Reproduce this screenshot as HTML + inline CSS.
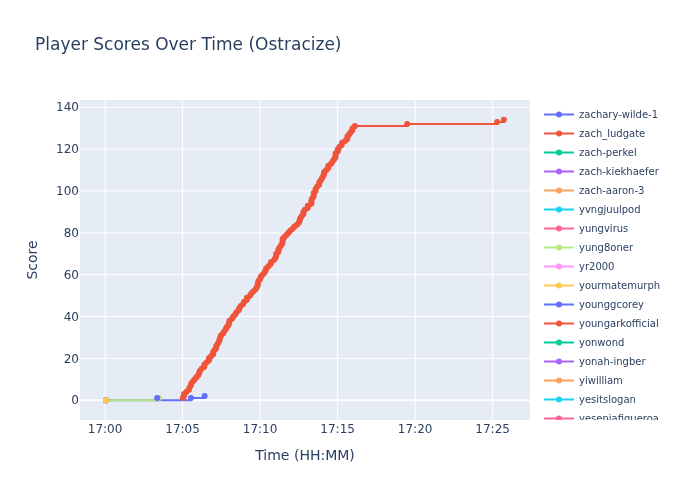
<!DOCTYPE html>
<html><head><meta charset="utf-8"><title>Player Scores Over Time (Ostracize)</title>
<style>
html,body{margin:0;padding:0;background:#fff;}
svg{display:block;font-family:"DejaVu Sans","Liberation Sans",sans-serif;}
</style></head><body>
<svg width="700" height="500" viewBox="0 0 700 500">
<rect width="700" height="500" fill="#fff"/>
<rect x="80" y="100" width="450" height="320" fill="#E5ECF6"/>
<g><path d="M105.07,100V420" stroke="#fff" stroke-width="1"/><path d="M182.58,100V420" stroke="#fff" stroke-width="1"/><path d="M260.10,100V420" stroke="#fff" stroke-width="1"/><path d="M337.62,100V420" stroke="#fff" stroke-width="1"/><path d="M415.13,100V420" stroke="#fff" stroke-width="1"/><path d="M492.64,100V420" stroke="#fff" stroke-width="1"/><path d="M80,400.20H530" stroke="#fff" stroke-width="2"/><path d="M80,358.36H530" stroke="#fff" stroke-width="1"/><path d="M80,316.51H530" stroke="#fff" stroke-width="1"/><path d="M80,274.67H530" stroke="#fff" stroke-width="1"/><path d="M80,232.82H530" stroke="#fff" stroke-width="1"/><path d="M80,190.98H530" stroke="#fff" stroke-width="1"/><path d="M80,149.14H530" stroke="#fff" stroke-width="1"/><path d="M80,107.29H530" stroke="#fff" stroke-width="1"/></g>
<clipPath id="pc"><rect x="80" y="100" width="450" height="320"/></clipPath>
<g clip-path="url(#pc)">
<path d="M106,400.2H191.0V398.11H204.6V396.02" fill="none" stroke="#636efa" stroke-width="2"/>
<path d="M106,400.2H159.1V398.11" fill="none" stroke="#B6E880" stroke-width="2"/>
<circle cx="106" cy="400.2" r="3" fill="#B6E880"/><circle cx="159.1" cy="398.11" r="3" fill="#B6E880"/>
<g fill="#636efa"><circle cx="157.2" cy="398.11" r="3"/><circle cx="191.0" cy="398.11" r="3"/><circle cx="204.6" cy="396.02" r="3"/></g>
<path d="M182.79,398.11H184.07V396.02H184.07V393.92H186.48V391.83H188.87V389.74H189.54V387.65H190.83V385.55H191.26V383.46H192.97V381.37H194.73V379.28H196.45V377.19H198.39V375.09H199.14V373.00H199.90V370.91H201.64V368.82H204.27V366.72H204.27V364.63H206.35V362.54H208.93V360.45H208.93V358.36H211.09V356.26H213.14V354.17H213.14V352.08H214.61V349.99H216.29V347.89H216.29V345.80H217.76V343.71H219.02V341.62H219.60V339.53H220.25V337.43H221.08V335.34H223.11V333.25H224.23V331.16H225.83V329.07H226.79V326.97H228.55V324.88H229.12V322.79H229.58V320.70H232.05V318.60H233.30V316.51H235.21V314.42H236.51V312.33H238.62V310.24H239.28V308.14H240.77V306.05H243.13V303.96H244.11V301.87H246.83V299.77H246.95V297.68H250.09V295.59H251.29V293.50H253.20V291.41H255.56V289.31H256.75V287.22H257.65V285.13H257.88V283.04H258.55V280.94H260.37V278.85H260.75V276.76H262.54V274.67H264.51V272.58H265.65V270.48H266.13V268.39H268.51V266.30H270.50V264.21H271.09V262.11H274.09V260.02H275.31V257.93H276.15V255.84H276.37V253.75H278.46V251.65H278.46V249.56H279.65V247.47H280.90V245.38H282.41V243.28H282.61V241.19H282.61V239.10H284.43V237.01H286.44V234.92H288.44V232.82H290.07V230.73H292.52V228.64H294.50V226.55H297.12V224.46H299.07V222.36H299.70V220.27H300.32V218.18H301.78V216.09H303.42V213.99H303.42V211.90H304.85V209.81H307.82V207.72H307.84V205.63H311.36V203.53H311.36V201.44H311.70V199.35H313.15V197.26H313.81V195.16H313.81V193.07H315.58V190.98H315.58V188.89H317.03V186.80H319.06V184.70H319.24V182.61H320.62V180.52H321.89V178.43H323.09V176.33H324.06V174.24H324.06V172.15H326.27V170.06H328.32V167.97H328.32V165.87H331.11V163.78H332.39V161.69H333.99V159.60H335.42V157.50H335.42V155.41H335.71V153.32H337.83V151.23H337.85V149.14H339.35V147.04H341.57V144.95H342.12V142.86H345.30V140.77H347.36V138.67H347.36V136.58H349.13V134.49H350.51V132.40H352.29V130.31H352.59V128.21H354.92V126.12H407.10V124.03H497.10V121.94H503.90V119.85" fill="none" stroke="#EF553B" stroke-width="2"/>
<g fill="#EF553B"><circle cx="182.79" cy="398.11" r="3"/><circle cx="184.07" cy="396.02" r="3"/><circle cx="184.07" cy="393.92" r="3"/><circle cx="186.48" cy="391.83" r="3"/><circle cx="188.87" cy="389.74" r="3"/><circle cx="189.54" cy="387.65" r="3"/><circle cx="190.83" cy="385.55" r="3"/><circle cx="191.26" cy="383.46" r="3"/><circle cx="192.97" cy="381.37" r="3"/><circle cx="194.73" cy="379.28" r="3"/><circle cx="196.45" cy="377.19" r="3"/><circle cx="198.39" cy="375.09" r="3"/><circle cx="199.14" cy="373.00" r="3"/><circle cx="199.90" cy="370.91" r="3"/><circle cx="201.64" cy="368.82" r="3"/><circle cx="204.27" cy="366.72" r="3"/><circle cx="204.27" cy="364.63" r="3"/><circle cx="206.35" cy="362.54" r="3"/><circle cx="208.93" cy="360.45" r="3"/><circle cx="208.93" cy="358.36" r="3"/><circle cx="211.09" cy="356.26" r="3"/><circle cx="213.14" cy="354.17" r="3"/><circle cx="213.14" cy="352.08" r="3"/><circle cx="214.61" cy="349.99" r="3"/><circle cx="216.29" cy="347.89" r="3"/><circle cx="216.29" cy="345.80" r="3"/><circle cx="217.76" cy="343.71" r="3"/><circle cx="219.02" cy="341.62" r="3"/><circle cx="219.60" cy="339.53" r="3"/><circle cx="220.25" cy="337.43" r="3"/><circle cx="221.08" cy="335.34" r="3"/><circle cx="223.11" cy="333.25" r="3"/><circle cx="224.23" cy="331.16" r="3"/><circle cx="225.83" cy="329.07" r="3"/><circle cx="226.79" cy="326.97" r="3"/><circle cx="228.55" cy="324.88" r="3"/><circle cx="229.12" cy="322.79" r="3"/><circle cx="229.58" cy="320.70" r="3"/><circle cx="232.05" cy="318.60" r="3"/><circle cx="233.30" cy="316.51" r="3"/><circle cx="235.21" cy="314.42" r="3"/><circle cx="236.51" cy="312.33" r="3"/><circle cx="238.62" cy="310.24" r="3"/><circle cx="239.28" cy="308.14" r="3"/><circle cx="240.77" cy="306.05" r="3"/><circle cx="243.13" cy="303.96" r="3"/><circle cx="244.11" cy="301.87" r="3"/><circle cx="246.83" cy="299.77" r="3"/><circle cx="246.95" cy="297.68" r="3"/><circle cx="250.09" cy="295.59" r="3"/><circle cx="251.29" cy="293.50" r="3"/><circle cx="253.20" cy="291.41" r="3"/><circle cx="255.56" cy="289.31" r="3"/><circle cx="256.75" cy="287.22" r="3"/><circle cx="257.65" cy="285.13" r="3"/><circle cx="257.88" cy="283.04" r="3"/><circle cx="258.55" cy="280.94" r="3"/><circle cx="260.37" cy="278.85" r="3"/><circle cx="260.75" cy="276.76" r="3"/><circle cx="262.54" cy="274.67" r="3"/><circle cx="264.51" cy="272.58" r="3"/><circle cx="265.65" cy="270.48" r="3"/><circle cx="266.13" cy="268.39" r="3"/><circle cx="268.51" cy="266.30" r="3"/><circle cx="270.50" cy="264.21" r="3"/><circle cx="271.09" cy="262.11" r="3"/><circle cx="274.09" cy="260.02" r="3"/><circle cx="275.31" cy="257.93" r="3"/><circle cx="276.15" cy="255.84" r="3"/><circle cx="276.37" cy="253.75" r="3"/><circle cx="278.46" cy="251.65" r="3"/><circle cx="278.46" cy="249.56" r="3"/><circle cx="279.65" cy="247.47" r="3"/><circle cx="280.90" cy="245.38" r="3"/><circle cx="282.41" cy="243.28" r="3"/><circle cx="282.61" cy="241.19" r="3"/><circle cx="282.61" cy="239.10" r="3"/><circle cx="284.43" cy="237.01" r="3"/><circle cx="286.44" cy="234.92" r="3"/><circle cx="288.44" cy="232.82" r="3"/><circle cx="290.07" cy="230.73" r="3"/><circle cx="292.52" cy="228.64" r="3"/><circle cx="294.50" cy="226.55" r="3"/><circle cx="297.12" cy="224.46" r="3"/><circle cx="299.07" cy="222.36" r="3"/><circle cx="299.70" cy="220.27" r="3"/><circle cx="300.32" cy="218.18" r="3"/><circle cx="301.78" cy="216.09" r="3"/><circle cx="303.42" cy="213.99" r="3"/><circle cx="303.42" cy="211.90" r="3"/><circle cx="304.85" cy="209.81" r="3"/><circle cx="307.82" cy="207.72" r="3"/><circle cx="307.84" cy="205.63" r="3"/><circle cx="311.36" cy="203.53" r="3"/><circle cx="311.36" cy="201.44" r="3"/><circle cx="311.70" cy="199.35" r="3"/><circle cx="313.15" cy="197.26" r="3"/><circle cx="313.81" cy="195.16" r="3"/><circle cx="313.81" cy="193.07" r="3"/><circle cx="315.58" cy="190.98" r="3"/><circle cx="315.58" cy="188.89" r="3"/><circle cx="317.03" cy="186.80" r="3"/><circle cx="319.06" cy="184.70" r="3"/><circle cx="319.24" cy="182.61" r="3"/><circle cx="320.62" cy="180.52" r="3"/><circle cx="321.89" cy="178.43" r="3"/><circle cx="323.09" cy="176.33" r="3"/><circle cx="324.06" cy="174.24" r="3"/><circle cx="324.06" cy="172.15" r="3"/><circle cx="326.27" cy="170.06" r="3"/><circle cx="328.32" cy="167.97" r="3"/><circle cx="328.32" cy="165.87" r="3"/><circle cx="331.11" cy="163.78" r="3"/><circle cx="332.39" cy="161.69" r="3"/><circle cx="333.99" cy="159.60" r="3"/><circle cx="335.42" cy="157.50" r="3"/><circle cx="335.42" cy="155.41" r="3"/><circle cx="335.71" cy="153.32" r="3"/><circle cx="337.83" cy="151.23" r="3"/><circle cx="337.85" cy="149.14" r="3"/><circle cx="339.35" cy="147.04" r="3"/><circle cx="341.57" cy="144.95" r="3"/><circle cx="342.12" cy="142.86" r="3"/><circle cx="345.30" cy="140.77" r="3"/><circle cx="347.36" cy="138.67" r="3"/><circle cx="347.36" cy="136.58" r="3"/><circle cx="349.13" cy="134.49" r="3"/><circle cx="350.51" cy="132.40" r="3"/><circle cx="352.29" cy="130.31" r="3"/><circle cx="352.59" cy="128.21" r="3"/><circle cx="354.92" cy="126.12" r="3"/><circle cx="407.10" cy="124.03" r="3"/><circle cx="497.10" cy="121.94" r="3"/><circle cx="503.90" cy="119.85" r="3"/></g>
<circle cx="106.2" cy="400.30" r="3" fill="#636efa"/><circle cx="106.2" cy="400.30" r="3" fill="#EF553B"/><circle cx="106.2" cy="400.30" r="3" fill="#00cc96"/><circle cx="106.2" cy="400.30" r="3" fill="#ab63fa"/><circle cx="106.2" cy="400.30" r="3" fill="#FFA15A"/><circle cx="106.2" cy="400.30" r="3" fill="#19d3f3"/><circle cx="106.2" cy="400.30" r="3" fill="#FF6692"/><circle cx="106.2" cy="400.30" r="3" fill="#B6E880"/><circle cx="106.2" cy="400.30" r="3" fill="#FF97FF"/><circle cx="106.2" cy="400.30" r="3" fill="#FECB52"/><circle cx="106.2" cy="400.30" r="3" fill="#636efa"/><circle cx="106.2" cy="400.30" r="3" fill="#EF553B"/><circle cx="106.2" cy="400.30" r="3" fill="#00cc96"/><circle cx="106.2" cy="400.30" r="3" fill="#ab63fa"/><circle cx="106.2" cy="400.30" r="3" fill="#FFA15A"/><circle cx="106.2" cy="400.30" r="3" fill="#19d3f3"/><circle cx="106.2" cy="400.30" r="3" fill="#FF6692"/><circle cx="106.2" cy="400.30" r="3" fill="#B6E880"/><circle cx="106.2" cy="400.30" r="3" fill="#FF97FF"/><circle cx="106.2" cy="400.30" r="3" fill="#FECB52"/>
</g>
<g font-size="12" fill="#2a3f5f"><text x="105.07" y="433" text-anchor="middle">17:00</text><text x="182.58" y="433" text-anchor="middle">17:05</text><text x="260.10" y="433" text-anchor="middle">17:10</text><text x="337.62" y="433" text-anchor="middle">17:15</text><text x="415.13" y="433" text-anchor="middle">17:20</text><text x="492.64" y="433" text-anchor="middle">17:25</text><text x="79" y="400.20" text-anchor="end" dy="0.35em">0</text><text x="79" y="358.36" text-anchor="end" dy="0.35em">20</text><text x="79" y="316.51" text-anchor="end" dy="0.35em">40</text><text x="79" y="274.67" text-anchor="end" dy="0.35em">60</text><text x="79" y="232.82" text-anchor="end" dy="0.35em">80</text><text x="79" y="190.98" text-anchor="end" dy="0.35em">100</text><text x="79" y="149.14" text-anchor="end" dy="0.35em">120</text><text x="79" y="107.29" text-anchor="end" dy="0.35em">140</text></g>
<clipPath id="lc"><rect x="539" y="100" width="161" height="320"/></clipPath>
<g clip-path="url(#lc)">
<g transform="translate(539,114.5)"><path d="M5,0h30" fill="none" stroke="#636efa" stroke-width="2"/><circle cx="20" cy="0" r="3" fill="#636efa"/><text x="40" y="3.9" font-size="10" fill="#2a3f5f">zachary-wilde-1</text></g>
<g transform="translate(539,133.5)"><path d="M5,0h30" fill="none" stroke="#EF553B" stroke-width="2"/><circle cx="20" cy="0" r="3" fill="#EF553B"/><text x="40" y="3.9" font-size="10" fill="#2a3f5f">zach_ludgate</text></g>
<g transform="translate(539,152.5)"><path d="M5,0h30" fill="none" stroke="#00cc96" stroke-width="2"/><circle cx="20" cy="0" r="3" fill="#00cc96"/><text x="40" y="3.9" font-size="10" fill="#2a3f5f">zach-perkel</text></g>
<g transform="translate(539,171.5)"><path d="M5,0h30" fill="none" stroke="#ab63fa" stroke-width="2"/><circle cx="20" cy="0" r="3" fill="#ab63fa"/><text x="40" y="3.9" font-size="10" fill="#2a3f5f">zach-kiekhaefer</text></g>
<g transform="translate(539,190.5)"><path d="M5,0h30" fill="none" stroke="#FFA15A" stroke-width="2"/><circle cx="20" cy="0" r="3" fill="#FFA15A"/><text x="40" y="3.9" font-size="10" fill="#2a3f5f">zach-aaron-3</text></g>
<g transform="translate(539,209.5)"><path d="M5,0h30" fill="none" stroke="#19d3f3" stroke-width="2"/><circle cx="20" cy="0" r="3" fill="#19d3f3"/><text x="40" y="3.9" font-size="10" fill="#2a3f5f">yvngjuulpod</text></g>
<g transform="translate(539,228.5)"><path d="M5,0h30" fill="none" stroke="#FF6692" stroke-width="2"/><circle cx="20" cy="0" r="3" fill="#FF6692"/><text x="40" y="3.9" font-size="10" fill="#2a3f5f">yungvirus</text></g>
<g transform="translate(539,247.5)"><path d="M5,0h30" fill="none" stroke="#B6E880" stroke-width="2"/><circle cx="20" cy="0" r="3" fill="#B6E880"/><text x="40" y="3.9" font-size="10" fill="#2a3f5f">yung8oner</text></g>
<g transform="translate(539,266.5)"><path d="M5,0h30" fill="none" stroke="#FF97FF" stroke-width="2"/><circle cx="20" cy="0" r="3" fill="#FF97FF"/><text x="40" y="3.9" font-size="10" fill="#2a3f5f">yr2000</text></g>
<g transform="translate(539,285.5)"><path d="M5,0h30" fill="none" stroke="#FECB52" stroke-width="2"/><circle cx="20" cy="0" r="3" fill="#FECB52"/><text x="40" y="3.9" font-size="10" fill="#2a3f5f">yourmatemurph</text></g>
<g transform="translate(539,304.5)"><path d="M5,0h30" fill="none" stroke="#636efa" stroke-width="2"/><circle cx="20" cy="0" r="3" fill="#636efa"/><text x="40" y="3.9" font-size="10" fill="#2a3f5f">younggcorey</text></g>
<g transform="translate(539,323.5)"><path d="M5,0h30" fill="none" stroke="#EF553B" stroke-width="2"/><circle cx="20" cy="0" r="3" fill="#EF553B"/><text x="40" y="3.9" font-size="10" fill="#2a3f5f">youngarkofficial</text></g>
<g transform="translate(539,342.5)"><path d="M5,0h30" fill="none" stroke="#00cc96" stroke-width="2"/><circle cx="20" cy="0" r="3" fill="#00cc96"/><text x="40" y="3.9" font-size="10" fill="#2a3f5f">yonwond</text></g>
<g transform="translate(539,361.5)"><path d="M5,0h30" fill="none" stroke="#ab63fa" stroke-width="2"/><circle cx="20" cy="0" r="3" fill="#ab63fa"/><text x="40" y="3.9" font-size="10" fill="#2a3f5f">yonah-ingber</text></g>
<g transform="translate(539,380.5)"><path d="M5,0h30" fill="none" stroke="#FFA15A" stroke-width="2"/><circle cx="20" cy="0" r="3" fill="#FFA15A"/><text x="40" y="3.9" font-size="10" fill="#2a3f5f">yiwilliam</text></g>
<g transform="translate(539,399.5)"><path d="M5,0h30" fill="none" stroke="#19d3f3" stroke-width="2"/><circle cx="20" cy="0" r="3" fill="#19d3f3"/><text x="40" y="3.9" font-size="10" fill="#2a3f5f">yesitslogan</text></g>
<g transform="translate(539,418.5)"><path d="M5,0h30" fill="none" stroke="#FF6692" stroke-width="2"/><circle cx="20" cy="0" r="3" fill="#FF6692"/><text x="40" y="3.9" font-size="10" fill="#2a3f5f">yeseniafigueroa</text></g>
</g>
<text x="35" y="50" font-size="17" fill="#2a3f5f">Player Scores Over Time (Ostracize)</text>
<text x="305" y="459.8" font-size="14" fill="#2a3f5f" text-anchor="middle">Time (HH:MM)</text>
<text transform="rotate(-90,37.3,260)" x="37.3" y="260" font-size="14" fill="#2a3f5f" text-anchor="middle">Score</text>
</svg>
</body></html>
